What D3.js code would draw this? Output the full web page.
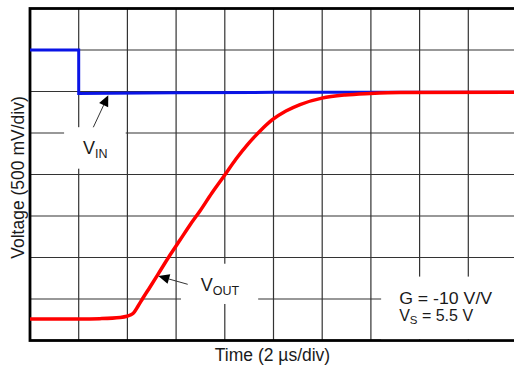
<!DOCTYPE html>
<html>
<head>
<meta charset="utf-8">
<script src="https://cdn.jsdelivr.net/npm/d3@7"></script>
<style>
  html, body { margin: 0; padding: 0; background: #fff; }
  svg { display: block; }
  text { font-family: "Liberation Sans", Arial, Helvetica, sans-serif; fill: #1a1a1a; }
</style>
</head>
<body>
<svg id="chart" width="514" height="368"></svg>
<script>
// ---- Data (time in µs, voltage in V, bottom of screen = 0 V) ----
const timeDomain = [0, 20];        // 10 div x 2 µs/div
const voltDomain = [0, 4];         // 8 div x 500 mV/div
const xTicks = [0, 2, 4, 6, 8, 10, 12, 14, 16, 18, 20];
const yTicks = [0, 0.5, 1, 1.5, 2, 2.5, 3, 3.5, 4];

const vinTime  = [0, 2, 2, 6, 10, 14, 20];
const vinVolts = [3.5, 3.5, 2.975, 2.985, 2.99, 2.99, 2.99];

const voutTime  = [0, 2.05, 2.87, 3.7, 3.98, 4.23, 4.44, 4.64, 4.93, 5.34, 5.75, 6.16, 6.57, 6.98, 7.47, 7.97, 8.46, 8.95, 9.45, 9.94, 10.51, 11.09, 11.99, 12.94, 13.96, 15.2, 20];
const voutVolts = [0.259, 0.259, 0.263, 0.277, 0.292, 0.325, 0.416, 0.512, 0.645, 0.837, 1.03, 1.21, 1.392, 1.56, 1.777, 1.982, 2.187, 2.367, 2.524, 2.657, 2.765, 2.843, 2.92, 2.958, 2.976, 2.988, 2.99];

const xLabel = "Time (2 µs/div)";
const yLabel = "Voltage (500 mV/div)";
const gainText = "G = -10 V/V";

// ---- Layout ----
const svg = d3.select("#chart");
const pLeft = 30, pRight = 517, pTop = 8.5, pBottom = 340.5;
const x = d3.scaleLinear().domain(timeDomain).range([pLeft, pRight]);
const y = d3.scaleLinear().domain(voltDomain).range([pBottom, pTop]);

// Grid
const grid = svg.append("g").attr("stroke", "#333").attr("stroke-width", 1.2);
grid.selectAll("line.v").data(xTicks.slice(1, -1)).join("line")
  .attr("x1", d => x(d)).attr("x2", d => x(d))
  .attr("y1", pTop).attr("y2", pBottom);
grid.selectAll("line.h").data(yTicks.slice(1, -1)).join("line")
  .attr("x1", pLeft).attr("x2", pRight)
  .attr("y1", d => y(d)).attr("y2", d => y(d));

// Border
svg.append("rect")
  .attr("x", pLeft).attr("y", pTop)
  .attr("width", pRight - pLeft).attr("height", pBottom - pTop)
  .attr("fill", "none").attr("stroke", "#000").attr("stroke-width", 2.8);

// White label boxes (hide grid behind annotations)
function box(t0, t1, v0, v1) {
  svg.append("rect")
    .attr("x", x(t0)).attr("y", y(v1))
    .attr("width", x(t1) - x(t0)).attr("height", y(v0) - y(v1))
    .attr("fill", "#fff");
}
box(1.4, 3.93, 2.07, 2.57);   // VIN
box(6.2, 9.37, 0.44, 0.925);  // VOUT
box(14.42, 20.2, 0.017, 0.77); // G / VS

// Curves
const line = d3.line().x(d => x(d[0])).y(d => y(d[1]));
const smooth = d3.line().x(d => x(d[0])).y(d => y(d[1])).curve(d3.curveMonotoneX);

svg.append("path")
  .datum(vinTime.map((t, i) => [t, vinVolts[i]]))
  .attr("d", line)
  .attr("fill", "none").attr("stroke", "#0a14e6").attr("stroke-width", 3);

svg.append("path")
  .datum(voutTime.map((t, i) => [t, voutVolts[i]]))
  .attr("d", smooth)
  .attr("fill", "none").attr("stroke", "#ff0000").attr("stroke-width", 3.5);

// Arrows
function arrow(t0, v0, t1, v1) {
  const x0 = x(t0), y0 = y(v0), x1 = x(t1), y1 = y(v1);
  const ang = Math.atan2(y1 - y0, x1 - x0);
  const L = 11, W = 5;
  const bx = x1 - L * Math.cos(ang), by = y1 - L * Math.sin(ang);
  svg.append("line")
    .attr("x1", x0).attr("y1", y0).attr("x2", bx).attr("y2", by)
    .attr("stroke", "#333").attr("stroke-width", 1);
  const px = -Math.sin(ang) * W, py = Math.cos(ang) * W;
  svg.append("polygon")
    .attr("points", [[x1, y1], [bx + px, by + py], [bx - px, by - py]].map(p => p.join(",")).join(" "))
    .attr("fill", "#000");
}
arrow(2.6, 2.569, 3.215, 2.955);
arrow(6.476, 0.677, 5.27, 0.777);

// Annotation labels
function subLabel(t, v, main, sub, size, subSize) {
  const tx = svg.append("text")
    .attr("x", x(t)).attr("y", y(v))
    .attr("font-size", size);
  tx.append("tspan").text(main);
  tx.append("tspan").attr("font-size", subSize).attr("dy", 3.5).text(sub);
  return tx;
}
subLabel(2.178, 2.243, "V", "IN", 18, 12.5);
subLabel(7.011, 0.596, "V", "OUT", 18, 12.5);

svg.append("text")
  .attr("x", x(15.16)).attr("y", y(0.436))
  .attr("font-size", 16)
  .attr("textLength", 93).attr("lengthAdjust", "spacingAndGlyphs")
  .text(gainText);
const vs = svg.append("text")
  .attr("x", x(15.16)).attr("y", y(0.238))
  .attr("font-size", 16);
vs.append("tspan").text("V");
vs.append("tspan").attr("font-size", 11.5).attr("dy", 3).text("S");
vs.append("tspan").attr("dy", -3).text(" = 5.5 V");

// Axis titles
svg.append("text")
  .attr("x", (pLeft + pRight) / 2 - 1).attr("y", 361)
  .attr("text-anchor", "middle").attr("font-size", 17.5)
  .text(xLabel);
svg.append("text")
  .attr("transform", `translate(24,177.5) rotate(-90)`)
  .attr("text-anchor", "middle").attr("font-size", 17.5)
  .text(yLabel);
</script>
</body>
</html>
